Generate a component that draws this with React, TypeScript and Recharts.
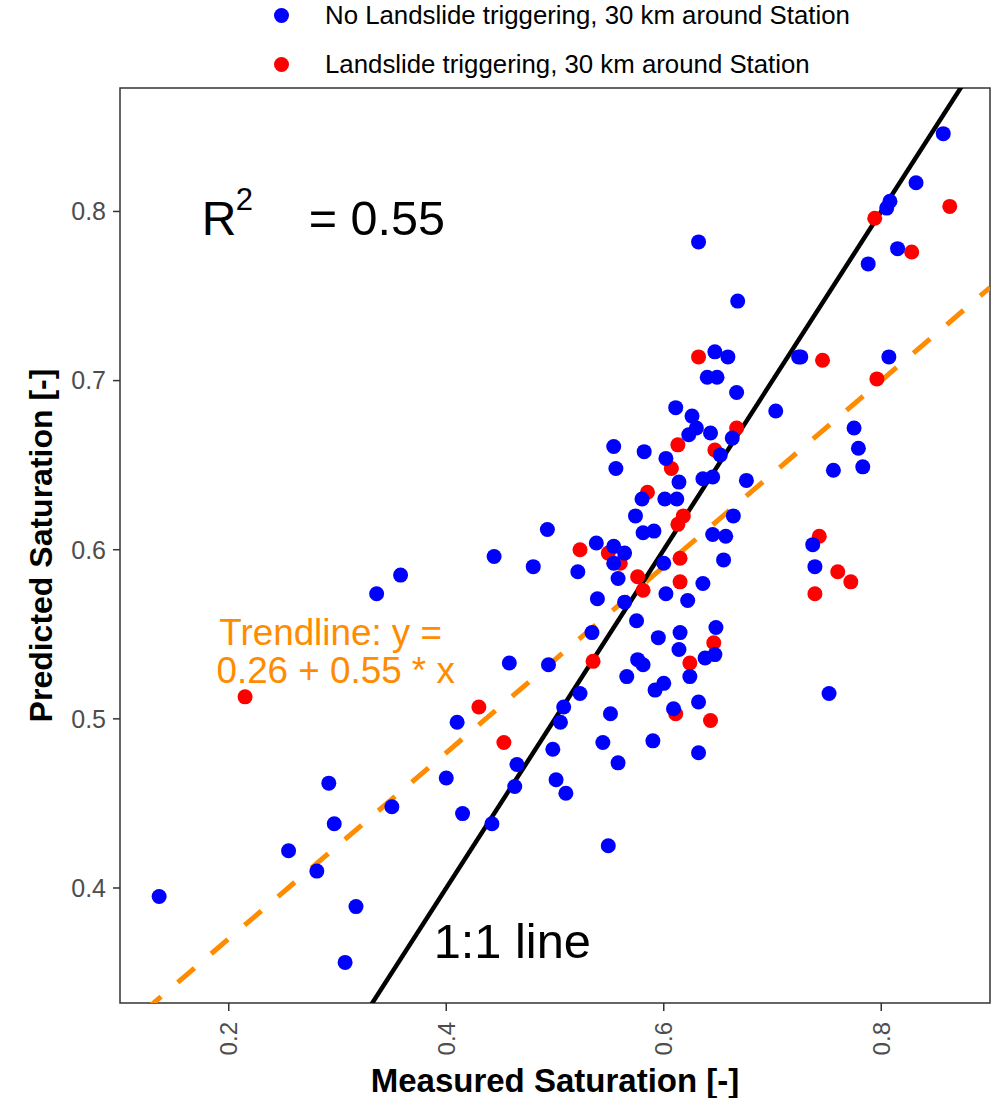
import { ScatterChart, Scatter, XAxis, YAxis, ReferenceLine, ReferenceArea, ReferenceDot } from 'recharts'

const noLandslide: [number, number][] = [
    [0.136, 0.395], [0.336, 0.574], [0.358, 0.585], [0.255, 0.422], [0.292, 0.462], [0.297, 0.438], [0.281, 0.410], [0.317, 0.389], [0.307, 0.356], [0.350, 0.448],
    [0.400, 0.465], [0.415, 0.444], [0.410, 0.498], [0.442, 0.438], [0.444, 0.596], [0.458, 0.533], [0.465, 0.473], [0.463, 0.460], [0.480, 0.590], [0.493, 0.612],
    [0.494, 0.532], [0.498, 0.482], [0.501, 0.464], [0.510, 0.456], [0.505, 0.498], [0.508, 0.507], [0.521, 0.587], [0.523, 0.515], [0.534, 0.551], [0.538, 0.604],
    [0.539, 0.571], [0.544, 0.486], [0.549, 0.425], [0.551, 0.503], [0.554, 0.661], [0.556, 0.648], [0.554, 0.602], [0.554, 0.592], [0.558, 0.583], [0.558, 0.474],
    [0.564, 0.598], [0.564, 0.569], [0.566, 0.525], [0.574, 0.620], [0.575, 0.558], [0.576, 0.535], [0.580, 0.630], [0.582, 0.658], [0.581, 0.610], [0.581, 0.532],
    [0.591, 0.611], [0.590, 0.487], [0.592, 0.517], [0.595, 0.548], [0.600, 0.592], [0.602, 0.574], [0.600, 0.521], [0.601, 0.630], [0.602, 0.654], [0.609, 0.506],
    [0.612, 0.630], [0.611, 0.684], [0.614, 0.640], [0.615, 0.551], [0.614, 0.541], [0.626, 0.679], [0.623, 0.668], [0.630, 0.672], [0.622, 0.570], [0.624, 0.525],
    [0.632, 0.782], [0.632, 0.510], [0.632, 0.480], [0.636, 0.580], [0.638, 0.536], [0.640, 0.702], [0.643, 0.669], [0.645, 0.609], [0.636, 0.642], [0.645, 0.643],
    [0.647, 0.717], [0.649, 0.702], [0.648, 0.554], [0.647, 0.538], [0.657, 0.608], [0.655, 0.594], [0.652, 0.656], [0.659, 0.714], [0.663, 0.666], [0.664, 0.620],
    [0.667, 0.693], [0.668, 0.747], [0.676, 0.641], [0.703, 0.682], [0.724, 0.714], [0.726, 0.714], [0.737, 0.603], [0.739, 0.590], [0.752, 0.515], [0.756, 0.647],
    [0.775, 0.672], [0.779, 0.660], [0.783, 0.649], [0.788, 0.769], [0.807, 0.714], [0.805, 0.802], [0.808, 0.806], [0.815, 0.778], [0.832, 0.817], [0.857, 0.846],
]

const landslide: [number, number][] = [
    [0.215, 0.513], [0.430, 0.507], [0.453, 0.486], [0.523, 0.600], [0.535, 0.534], [0.549, 0.598], [0.560, 0.592], [0.576, 0.584], [0.581, 0.576], [0.585, 0.634],
    [0.607, 0.648], [0.613, 0.662], [0.618, 0.620], [0.613, 0.615], [0.615, 0.595], [0.615, 0.581], [0.624, 0.533], [0.611, 0.503], [0.643, 0.499], [0.646, 0.545],
    [0.647, 0.659], [0.667, 0.672], [0.632, 0.714], [0.743, 0.608], [0.739, 0.574], [0.760, 0.587], [0.772, 0.581], [0.746, 0.712], [0.796, 0.701], [0.794, 0.796],
    [0.828, 0.776], [0.863, 0.803],
]

const xTicks = [0.2, 0.4, 0.6, 0.8]
const yTicks = [0.4, 0.5, 0.6, 0.7, 0.8]
const xDomain = [0.1, 0.9]
const yDomain = [0.332, 0.873]
const trendIntercept = 0.26
const trendSlope = 0.55
const r2 = '0.55'

const legendItems = [
    { label: 'No Landslide triggering, 30 km around Station', color: '#0000FF' },
    { label: 'Landslide triggering, 30 km around Station', color: '#FF0000' },
]

const FONT = '"Liberation Sans", Arial, sans-serif'
const toPts = (arr: [number, number][]) => arr.map(([x, y]) => ({ x, y }))

const dot = (color: string) => (p: any) => <circle cx={p.cx} cy={p.cy} r={7.5} fill={color} />

const XTick = ({ x, y, payload }: any) => (
    <text
        x={x}
        y={y + 9}
        transform={`rotate(-90 ${x} ${y + 9})`}
        textAnchor="end"
        dominantBaseline="central"
        fontSize={24}
        fill="#4D4D4D"
        fontFamily={FONT}
    >
        {payload.value.toFixed(1)}
    </text>
)

export default function App() {
    const trendAt = (x: number) => trendIntercept + trendSlope * x

    return (
        <div style={{ position: 'absolute', left: 0, top: 0, width: 1003, height: 1098, background: '#fff', fontFamily: FONT }}>
            <ScatterChart width={1003} height={1098} margin={{ top: 88, right: 13, bottom: 0, left: 0 }}>
                <XAxis
                    type="number"
                    dataKey="x"
                    domain={xDomain}
                    ticks={xTicks}
                    allowDataOverflow
                    height={95}
                    axisLine={false}
                    tickSize={8}
                    tickLine={{ stroke: '#333', strokeWidth: 1.5 }}
                    tick={<XTick />}
                    label={(p: any) => (
                        <text x={p.viewBox.x + p.viewBox.width / 2} y={p.viewBox.y + 89} textAnchor="middle" fontSize={33} fontWeight="bold" fontFamily={FONT} fill="#000">
                            Measured Saturation [-]
                        </text>
                    )}
                />
                <YAxis
                    type="number"
                    dataKey="y"
                    domain={yDomain}
                    ticks={yTicks}
                    allowDataOverflow
                    width={120}
                    axisLine={false}
                    tickSize={7}
                    tickMargin={7}
                    tickLine={{ stroke: '#333', strokeWidth: 1.5 }}
                    tick={{ fontSize: 25, fill: '#4D4D4D', fontFamily: FONT }}
                    tickFormatter={(v: number) => v.toFixed(1)}
                    label={(p: any) => {
                        const cx = p.viewBox.x + 41
                        const cy = p.viewBox.y + p.viewBox.height / 2
                        return (
                            <text x={cx} y={cy} transform={`rotate(-90 ${cx} ${cy})`} textAnchor="middle" dominantBaseline="central" fontSize={32} fontWeight="bold" fontFamily={FONT} fill="#000">
                                Predicted Saturation [-]
                            </text>
                        )
                    }}
                />
                <ReferenceArea x1={xDomain[0]} x2={xDomain[1]} y1={yDomain[0]} y2={yDomain[1]} fill="none" stroke="#333" strokeWidth={1.5} ifOverflow="visible" />
                <Scatter data={toPts(landslide)} shape={dot('#FF0000')} isAnimationActive={false} />
                <Scatter data={toPts(noLandslide)} shape={dot('#0000FF')} isAnimationActive={false} />
                <ReferenceLine
                    segment={[{ x: xDomain[0], y: trendAt(xDomain[0]) }, { x: xDomain[1], y: trendAt(xDomain[1]) }]}
                    stroke="#FF8C00"
                    strokeWidth={5}
                    strokeDasharray="22 22"
                    strokeDashoffset={12}
                    ifOverflow="hidden"
                />
                <ReferenceLine
                    segment={[{ x: 0.1, y: 0.1 }, { x: 0.9, y: 0.9 }]}
                    stroke="#000"
                    strokeWidth={4.5}
                    ifOverflow="hidden"
                />
                <ReferenceDot
                    x={0.1752}
                    y={0.7858}
                    r={0}
                    fill="none"
                    stroke="none"
                    ifOverflow="visible"
                    label={(p: any) => {
                        const { x, y } = p.viewBox
                        return (
                            <g fontFamily={FONT} fill="#000">
                                <text x={x} y={y} fontSize={48}>R</text>
                                <text x={x + 34} y={y - 25} fontSize={31}>2</text>
                                <text x={x + 107} y={y} fontSize={48.5}>= {r2}</text>
                            </g>
                        )
                    }}
                />
                <ReferenceDot
                    x={0.2937}
                    y={0.5435}
                    r={0}
                    fill="none"
                    stroke="none"
                    ifOverflow="visible"
                    label={(p: any) => {
                        const { x, y } = p.viewBox
                        return (
                            <g fontFamily={FONT} fill="#FF8C00" fontSize={36.8}>
                                <text x={x} y={y} textAnchor="middle">Trendline: y =</text>
                                <text x={x + 5} y={y + 38} textAnchor="middle">{`${trendIntercept} + ${trendSlope} * x`}</text>
                            </g>
                        )
                    }}
                />
                <ReferenceDot
                    x={0.3884}
                    y={0.3585}
                    r={0}
                    fill="none"
                    stroke="none"
                    ifOverflow="visible"
                    label={(p: any) => (
                        <text x={p.viewBox.x} y={p.viewBox.y} fontSize={48.8} fontFamily={FONT} fill="#000">1:1 line</text>
                    )}
                />
            </ScatterChart>
            {legendItems.map((item, i) => (
                <div key={item.label} style={{ position: 'absolute', left: 274, top: 1 + i * 49, height: 28, display: 'flex', alignItems: 'center' }}>
                    <span style={{ width: 15, height: 15, borderRadius: '50%', background: item.color, display: 'inline-block' }} />
                    <span style={{ marginLeft: 36, fontSize: 25.8, color: '#000', whiteSpace: 'nowrap' }}>{item.label}</span>
                </div>
            ))}
        </div>
    )
}
